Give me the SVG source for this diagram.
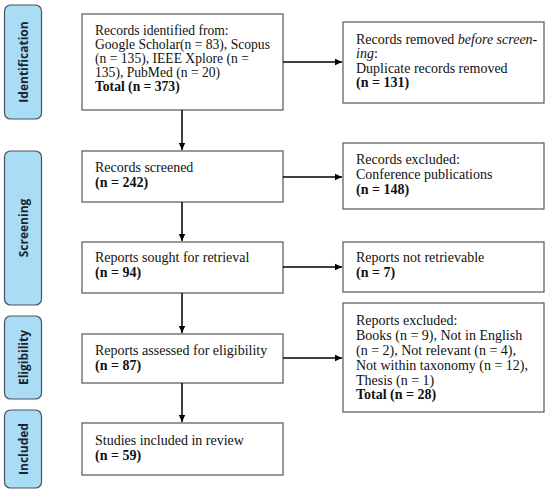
<svg xmlns="http://www.w3.org/2000/svg" width="550" height="492" viewBox="0 0 550 492">
<defs>
<marker id="ah" markerWidth="8" markerHeight="8" refX="7" refY="4" orient="auto" markerUnits="userSpaceOnUse">
<path d="M0,0.8 L7,4 L0,7.2 Z" fill="#000"/>
</marker>
<style>
.box{fill:#fff;stroke:#555;stroke-width:1.2}
.stage{fill:#aadcf6;stroke:#46525c;stroke-width:1.2}
.t{font-family:"Liberation Serif",serif;font-size:14px;fill:#111}
.s{font-size:13.6px}
.b{font-weight:bold}
.lbl{font-family:"Open Sans","Noto Sans",sans-serif;font-size:12px;font-weight:bold;fill:#1b2530;text-anchor:middle}
.c{stroke:#000;stroke-width:1.5;fill:none}
</style>
</defs>
<rect width="550" height="492" fill="#fff"/>

<g id="stage-identification">
<rect class="stage" x="4.5" y="5" width="37" height="114" rx="6"/>
<text class="lbl" transform="translate(27.5,62) rotate(-90)">Identification</text>
</g>
<g id="stage-screening">
<rect class="stage" x="4.5" y="151" width="37" height="154" rx="6"/>
<text class="lbl" transform="translate(27.5,228) rotate(-90)">Screening</text>
</g>
<g id="stage-eligibility">
<rect class="stage" x="4.5" y="316" width="37" height="83" rx="6"/>
<text class="lbl" transform="translate(27.5,357.5) rotate(-90)">Eligibility</text>
</g>
<g id="stage-included">
<rect class="stage" x="4.5" y="410" width="37" height="78" rx="6"/>
<text class="lbl" transform="translate(27.5,449) rotate(-90)">Included</text>
</g>

<g id="identified">
<rect class="box" x="82" y="14" width="201" height="96"/>
<text class="t s" x="95" y="35">Records identified from:</text>
<text class="t s" x="95" y="49">Google Scholar(n = 83), Scopus</text>
<text class="t s" x="95" y="63">(n = 135), IEEE Xplore (n =</text>
<text class="t s" x="95" y="77">135), PubMed (n = 20)</text>
<text class="t s b" x="95" y="91">Total (n = 373)</text>
</g>
<g id="removed">
<rect class="box" x="343" y="22" width="201" height="81"/>
<text class="t" x="356" y="44">Records removed <tspan font-style="italic">before screen-</tspan></text>
<text class="t" x="356" y="58"><tspan font-style="italic">ing</tspan>:</text>
<text class="t" x="356" y="73">Duplicate records removed</text>
<text class="t b" x="356" y="87">(n = 131)</text>
</g>
<g id="screened">
<rect class="box" x="82" y="151" width="201" height="51"/>
<text class="t" x="95" y="172">Records screened</text>
<text class="t b" x="95" y="187">(n = 242)</text>
</g>
<g id="excluded">
<rect class="box" x="343" y="143" width="201" height="66"/>
<text class="t" x="356" y="164">Records excluded:</text>
<text class="t" x="356" y="179">Conference publications</text>
<text class="t b" x="356" y="194">(n = 148)</text>
</g>
<g id="sought">
<rect class="box" x="82" y="242" width="201" height="51"/>
<text class="t" x="95" y="262">Reports sought for retrieval</text>
<text class="t b" x="95" y="277">(n = 94)</text>
</g>
<g id="notretrieved">
<rect class="box" x="343" y="242" width="201" height="50"/>
<text class="t" x="356" y="262">Reports not retrievable</text>
<text class="t b" x="356" y="277">(n = 7)</text>
</g>
<g id="assessed">
<rect class="box" x="82" y="334" width="201" height="49"/>
<text class="t" x="95" y="355">Reports assessed for eligibility</text>
<text class="t b" x="95" y="370">(n = 87)</text>
</g>
<g id="reportsexcluded">
<rect class="box" x="343" y="303" width="201" height="109"/>
<text class="t" x="356" y="325">Reports excluded:</text>
<text class="t" x="356" y="340">Books (n = 9), Not in English</text>
<text class="t" x="356" y="355">(n = 2), Not relevant (n = 4),</text>
<text class="t" x="356" y="370">Not within taxonomy (n = 12),</text>
<text class="t" x="356" y="385">Thesis (n = 1)</text>
<text class="t b" x="356" y="399">Total (n = 28)</text>
</g>
<g id="included">
<rect class="box" x="82" y="423" width="201" height="52"/>
<text class="t" x="95" y="445">Studies included in review</text>
<text class="t b" x="95" y="460">(n = 59)</text>
</g>

<g id="connectors">
<line class="c" x1="182" y1="110" x2="182" y2="150" marker-end="url(#ah)"/>
<line class="c" x1="182" y1="202" x2="182" y2="241" marker-end="url(#ah)"/>
<line class="c" x1="182" y1="293" x2="182" y2="333" marker-end="url(#ah)"/>
<line class="c" x1="182" y1="383" x2="182" y2="422" marker-end="url(#ah)"/>
<line class="c" x1="283" y1="62" x2="342" y2="62" marker-end="url(#ah)"/>
<line class="c" x1="283" y1="177" x2="342" y2="177" marker-end="url(#ah)"/>
<line class="c" x1="283" y1="267" x2="342" y2="267" marker-end="url(#ah)"/>
<line class="c" x1="283" y1="358" x2="342" y2="358" marker-end="url(#ah)"/>
</g>
</svg>
